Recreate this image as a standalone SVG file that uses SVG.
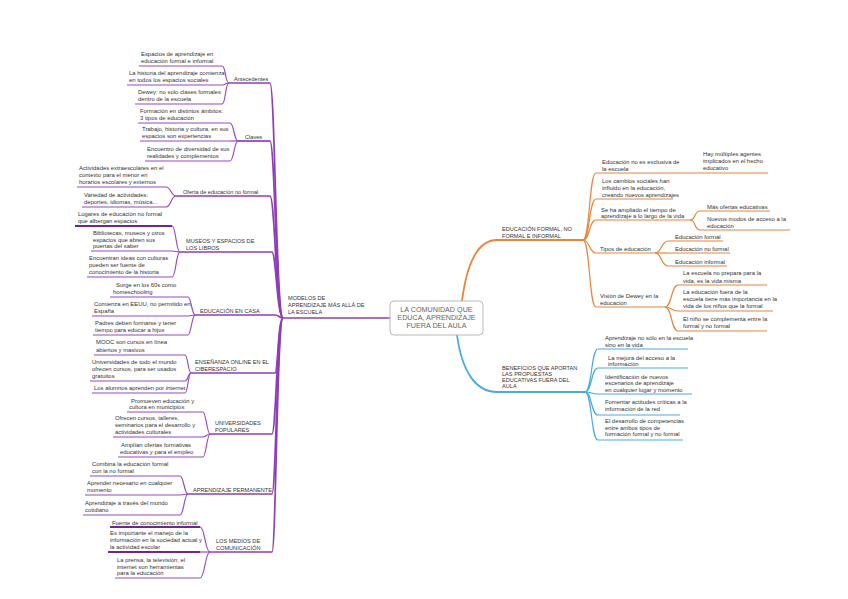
<svg xmlns="http://www.w3.org/2000/svg" width="848" height="599" viewBox="0 0 848 599">
<style>
text{font-family:"Liberation Sans",Arial,sans-serif;font-size:5.9px;fill:#333}
.s{font-size:5.6px}
.ctr{font-size:7.2px;fill:#666;text-anchor:middle}
.pu{stroke:#9a48c4;stroke-width:1.2;fill:none}
.pt{stroke:#6e2596;stroke-width:2;fill:none}
.pm{stroke:#8e3dba;stroke-width:1.7;fill:none}
.ou{stroke:#e8843c;stroke-width:1.2;fill:none}
.om{stroke:#e8843c;stroke-width:1.8;fill:none}
.bu{stroke:#4aa9e2;stroke-width:1.2;fill:none}
.bm{stroke:#4aa9e2;stroke-width:1.8;fill:none}
</style>
<rect width="848" height="599" fill="#fff"/>
<g id="connectors">
<path class="pm" d="M390,318 L283,318"/>
<path class="pm" d="M283,318 C276,318 275,83 270,83"/>
<path class="pm" d="M283,318 C276,318 275,141 270,141"/>
<path class="pm" d="M283,318 C276,318 275,196 270,196"/>
<path class="pm" d="M283,318 C277,318 276,252 272,252"/>
<path class="pm" d="M283,318 C279,318 279,315 275,315"/>
<path class="pm" d="M283,318 C278,318 278,373 275,373"/>
<path class="pm" d="M283,318 C277,318 276,434 272,434"/>
<path class="pm" d="M283,318 C277,318 276,494 272,494"/>
<path class="pm" d="M283,318 C277,318 276,552 272,552"/>
<path class="pu" d="M222,66 C226,66 225,83 229,83"/>
<path class="pu" d="M222,85 C226,85 225,83 229,83"/>
<path class="pu" d="M222,104 C226,104 225,83 229,83"/>
<path class="pu" d="M230,123 C234,123 234,141 238,141"/>
<path class="pu" d="M230,141 L238,141"/>
<path class="pu" d="M230,161 C234,161 234,141 238,141"/>
<path class="pu" d="M166,187 C171,187 171,196 176,196"/>
<path class="pu" d="M166,207 C171,207 171,196 176,196"/>
<path class="pu" d="M172,226 C176,226 176,252 180,252"/>
<path class="pu" d="M172,251 C176,251 176,252 180,252"/>
<path class="pu" d="M172,277 C176,277 176,252 180,252"/>
<path class="pu" d="M188,297 C191,297 192,315 195,315"/>
<path class="pu" d="M188,316 L195,315"/>
<path class="pu" d="M188,335 C191,335 192,315 195,315"/>
<path class="pu" d="M185,355 C188,355 188,373 191,373"/>
<path class="pu" d="M185,381 C188,381 188,373 191,373"/>
<path class="pu" d="M185,393 C188,393 188,373 191,373"/>
<path class="pu" d="M203,412 C206,412 207,434 210,434"/>
<path class="pu" d="M203,437 C206,437 207,434 210,434"/>
<path class="pu" d="M203,457 C206,457 207,434 210,434"/>
<path class="pu" d="M180,476 C184,476 184,494 188,494"/>
<path class="pu" d="M180,495 L188,494"/>
<path class="pu" d="M180,515 C184,515 184,494 188,494"/>
<path class="pu" d="M200,527 C205,527 205,552 210,552"/>
<path class="pu" d="M200,552 L210,552"/>
<path class="pu" d="M200,578 C205,578 205,552 210,552"/>
<path class="om" d="M462,301 C467,262 478,240 497,240"/>
<path class="ou" d="M583,240 C590,240 589,173 596,173"/>
<path class="ou" d="M583,240 C590,240 589,199 596,199"/>
<path class="ou" d="M583,240 C590,240 589,220 596,220"/>
<path class="ou" d="M583,240 C590,240 589,253 596,253"/>
<path class="ou" d="M583,240 C590,240 589,307 596,307"/>
<path class="ou" d="M690,220 C696,220 694,211 700,211"/>
<path class="ou" d="M690,220 C696,220 694,230 700,230"/>
<path class="ou" d="M655,253 C662,253 661,241 668,241"/>
<path class="ou" d="M655,253 L668,253"/>
<path class="ou" d="M655,253 C662,253 661,266 668,266"/>
<path class="ou" d="M665,307 C672,307 671,285 678,285"/>
<path class="ou" d="M665,307 C672,307 671,311 678,311"/>
<path class="ou" d="M665,307 C672,307 671,331 678,331"/>
<path class="bm" d="M457,335 C462,372 476,392 497,392"/>
<path class="bu" d="M585,392 C592,392 591,349 598,349"/>
<path class="bu" d="M585,392 C592,392 591,368 598,368"/>
<path class="bu" d="M585,392 C592,392 591,394 598,394"/>
<path class="bu" d="M585,392 C592,392 591,415 598,415"/>
<path class="bu" d="M585,392 C592,392 591,440 598,440"/>
</g>
<g id="center">
<rect x="390" y="301" width="93" height="34" rx="4" fill="#fff" stroke="#b8b8b8" stroke-width="1"/>
<text class="ctr" x="436.5" y="311.5">LA COMUNIDAD QUE</text>
<text class="ctr" x="436.5" y="319.5">EDUCA, APRENDIZAJE</text>
<text class="ctr" x="436.5" y="328">FUERA DEL AULA</text>
</g>
<g id="modelos">
<text class="s" x="288" y="300">MODELOS DE</text>
<text class="s" x="288" y="307">APRENDIZAJE MÁS ALLÁ DE</text>
<text class="s" x="288" y="314">LA ESCUELA</text>
</g>
<g id="antecedentes"><path class="pm" d="M229,83 L270,83"/><text class="s" x="234" y="81">Antecedentes</text></g>
<g id="a1"><path class="pu" d="M139,66 L222,66"/><text x="141" y="56">Espacios de aprendizaje en</text><text x="141" y="63">educación formal e informal</text></g>
<g id="a2"><path class="pu" d="M127,85 L222,85"/><text x="129" y="75">La historia del aprendizaje comienza</text><text x="129" y="82">en todos los espacios sociales</text></g>
<g id="a3"><path class="pu" d="M135,104 L222,104"/><text x="138" y="94">Dewey: no solo clases formales</text><text x="138" y="101">dentro de la escuela</text></g>
<g id="claves"><path class="pm" d="M238,141 L270,141"/><text class="s" x="245" y="139">Claves</text></g>
<g id="b1"><path class="pu" d="M138,123 L230,123"/><text x="140" y="113">Formación en distintos ámbitos:</text><text x="140" y="120">3 tipos de educación</text></g>
<g id="b2"><path class="pu" d="M140,141 L230,141"/><text x="142" y="131">Trabajo, historia y cultura, en sus</text><text x="142" y="138">espacios son experiencias</text></g>
<g id="b3"><path class="pu" d="M145,161 L230,161"/><text x="147" y="151">Encuentro de diversidad de sus</text><text x="147" y="158">realidades y complementos</text></g>
<g id="oferta"><path class="pm" d="M176,196 L270,196"/><text class="s" x="183" y="193.5">Oferta de educación no formal</text></g>
<g id="c1"><path class="pu" d="M77,187 L166,187"/><text x="79" y="170">Actividades extraescolares en el</text><text x="79" y="177">contexto para el menor en</text><text x="79" y="184">horarios escolares y externos</text></g>
<g id="c2"><path class="pu" d="M82,207 L166,207"/><text x="84" y="197">Variedad de actividades:</text><text x="84" y="204">deportes, idiomas, música...</text></g>
<g id="museos"><path class="pm" d="M180,252 L272,252"/><text class="s" x="186" y="243">MUSEOS Y ESPACIOS DE</text><text class="s" x="186" y="249.5">LOS LIBROS</text></g>
<g id="d1"><path class="pt" d="M75,226 L172,226"/><text x="78" y="216">Lugares de educación no formal</text><text x="78" y="223">que albergan espacios</text></g>
<g id="d2"><path class="pu" d="M91,251 L172,251"/><text x="93" y="235">Bibliotecas, museos y otros</text><text x="93" y="241.5">espacios que abren sus</text><text x="93" y="248">puertas del saber</text></g>
<g id="d3"><path class="pu" d="M87,277 L172,277"/><text x="89" y="260">Encuentran ideas con culturas</text><text x="89" y="267">pueden ser fuente de</text><text x="89" y="274">conocimiento de la historia</text></g>
<g id="casa"><path class="pm" d="M195,315 L275,315"/><text class="s" x="200" y="313">EDUCACIÓN EN CASA</text></g>
<g id="e1"><path class="pu" d="M110,297 L188,297"/><text x="116" y="287">Surge en los 60s como</text><text x="113" y="294">homeschooling</text></g>
<g id="e2"><path class="pu" d="M92,316 L188,316"/><text x="94" y="306">Comienza en EEUU, no permitido en</text><text x="94" y="313">España</text></g>
<g id="e3"><path class="pu" d="M93,335 L188,335"/><text x="95" y="325">Padres deben formarse y tener</text><text x="95" y="332">tiempo para educar a hijos</text></g>
<g id="ciber"><path class="pm" d="M191,373 L275,373"/><text class="s" x="195" y="363.5">ENSEÑANZA ONLINE EN EL</text><text class="s" x="195" y="370.5">CIBERESPACIO</text></g>
<g id="f1"><path class="pu" d="M94,355 L185,355"/><text x="96" y="344">MOOC son cursos en línea</text><text x="96" y="352">abiertos y masivos</text></g>
<g id="f2"><path class="pu" d="M90,381 L185,381"/><text x="92" y="363.5">Universidades de todo el mundo</text><text x="92" y="371">ofrecen cursos, para ser usados</text><text x="92" y="378">gratuitos</text></g>
<g id="f3"><path class="pu" d="M92,393 L185,393"/><text x="94" y="390">Los alumnos aprenden por internet</text></g>
<g id="universidades"><path class="pm" d="M210,434 L272,434"/><text class="s" x="215" y="425">UNIVERSIDADES</text><text class="s" x="215" y="431.5">POPULARES</text></g>
<g id="g1"><path class="pu" d="M127,412 L203,412"/><text x="131" y="403">Promueven educación y</text><text x="129" y="409">cultura en municipios</text></g>
<g id="g2"><path class="pu" d="M113,437 L203,437"/><text x="115" y="420">Ofrecen cursos, talleres,</text><text x="115" y="427">seminarios para el desarrollo y</text><text x="115" y="434">actividades culturales</text></g>
<g id="g3"><path class="pu" d="M118,457 L203,457"/><text x="121" y="446.5">Amplían ofertas formativas</text><text x="120" y="454">educativas y para el empleo</text></g>
<g id="aprendizaje"><path class="pm" d="M188,494 L272,494"/><text class="s" x="193" y="491.5">APRENDIZAJE PERMANENTE</text></g>
<g id="h1"><path class="pu" d="M90,476 L180,476"/><text x="92" y="465.5">Combina la educación formal</text><text x="92" y="473">con la no formal</text></g>
<g id="h2"><path class="pu" d="M85,495 L180,495"/><text x="87" y="485">Aprender necesario en cualquier</text><text x="87" y="492">momento</text></g>
<g id="h3"><path class="pu" d="M83,515 L180,515"/><text x="85" y="505">Aprendizaje a través del mundo</text><text x="85" y="511.5">cotidiano</text></g>
<g id="medios"><path class="pm" d="M210,552 L272,552"/><text class="s" x="216" y="543">LOS MEDIOS DE</text><text class="s" x="216" y="549.5">COMUNICACIÓN</text></g>
<g id="i1"><path class="pt" d="M110,527 L200,527"/><text x="112" y="524.5">Fuente de conocimiento informal</text></g>
<g id="i2"><path class="pt" d="M108,552 L200,552"/><text x="110" y="535">Es importante el manejo de la</text><text x="110" y="542">información en la sociedad actual y</text><text x="110" y="549">la actividad escolar</text></g>
<g id="i3"><path class="pu" d="M115,578 L200,578"/><text x="117" y="562">La prensa, la televisión, el</text><text x="117" y="568.5">internet son herramientas</text><text x="117" y="575">para la educación</text></g>
<g id="educacion-formal"><path class="om" d="M497,240 L583,240"/><text class="s" x="502" y="231">EDUCACIÓN FORMAL, NO</text><text class="s" x="502" y="237.5">FORMAL E INFORMAL</text></g>
<g id="o1"><path class="ou" d="M596,173 L683,173"/><text x="602" y="164">Educación no es exclusiva de</text><text x="602" y="171">la escuela</text></g>
<g id="o1a"><path class="ou" d="M683,173 L768,173"/><text x="703" y="156">Hay múltiples agentes</text><text x="703" y="163">implicados en el hecho</text><text x="703" y="170">educativo</text></g>
<g id="o2"><path class="ou" d="M596,199 L673,199"/><text x="602" y="183">Los cambios sociales han</text><text x="602" y="190">influido en la educación,</text><text x="602" y="197">creando nuevos aprendizajes</text></g>
<g id="o3"><path class="ou" d="M596,220 L690,220"/><text x="601" y="211.5">Se ha ampliado el tiempo de</text><text x="601" y="218">aprendizaje a lo largo de la vida</text></g>
<g id="o3a"><path class="ou" d="M700,211 L770,211"/><text x="707" y="209">Más ofertas educativas</text></g>
<g id="o3b"><path class="ou" d="M700,230 L790,230"/><text x="707" y="221">Nuevos modos de acceso a la</text><text x="707" y="228">educación</text></g>
<g id="o4"><path class="ou" d="M596,253 L655,253"/><text x="600" y="251">Tipos de educación</text></g>
<g id="o4a"><path class="ou" d="M668,241 L723,241"/><text x="675" y="239">Educación formal</text></g>
<g id="o4b"><path class="ou" d="M668,253 L730,253"/><text x="675" y="251">Educación no formal</text></g>
<g id="o4c"><path class="ou" d="M668,266 L727,266"/><text x="675" y="264">Educación informal</text></g>
<g id="o5"><path class="ou" d="M596,307 L665,307"/><text x="600" y="298">Visión de Dewey en la</text><text x="600" y="305">educación</text></g>
<g id="o5a"><path class="ou" d="M678,285 L767,285"/><text x="683" y="275">La escuela no prepara para la</text><text x="683" y="282.5">vida, es la vida misma</text></g>
<g id="o5b"><path class="ou" d="M678,311 L773,311"/><text x="683" y="293.5">La educación fuera de la</text><text x="683" y="300.5">escuela tiene más importancia en la</text><text x="683" y="308">vida de los niños que la formal</text></g>
<g id="o5c"><path class="ou" d="M678,331 L767,331"/><text x="683" y="321">El niño se complementa entre la</text><text x="683" y="328">formal y no formal</text></g>
<g id="beneficios"><path class="bm" d="M497,392 L585,392"/><text class="s" x="502" y="370">BENEFICIOS QUE APORTAN</text><text class="s" x="502" y="376">LAS PROPUESTAS</text><text class="s" x="502" y="382">EDUCATIVAS FUERA DEL</text><text class="s" x="502" y="388">AULA</text></g>
<g id="l1"><path class="bu" d="M598,349 L688,349"/><text x="605" y="340">Aprendizaje no sólo en la escuela</text><text x="605" y="347">sino en la vida</text></g>
<g id="l2"><path class="bu" d="M598,368 L688,368"/><text x="608" y="360">La mejora del acceso a la</text><text x="608" y="366">información</text></g>
<g id="l3"><path class="bu" d="M598,394 L692,394"/><text x="605" y="378.5">Identificación de nuevos</text><text x="605" y="385">escenarios de aprendizaje</text><text x="605" y="392">en cualquier lugar y momento</text></g>
<g id="l4"><path class="bu" d="M598,415 L680,415"/><text x="605" y="404">Fomentar actitudes críticas a la</text><text x="605" y="411">información de la red</text></g>
<g id="l5"><path class="bu" d="M598,440 L683,440"/><text x="605" y="423">El desarrollo de competencias</text><text x="605" y="429.5">entre ambos tipos de</text><text x="605" y="436">formación formal y no formal</text></g>
</svg>
